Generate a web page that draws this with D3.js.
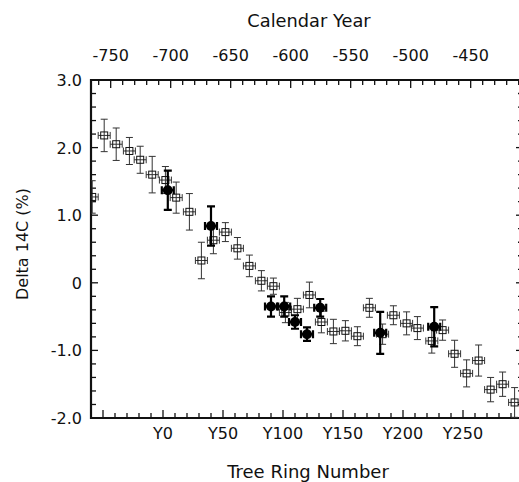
<!DOCTYPE html>
<html>
<head>
<meta charset="utf-8">
<script src="https://cdn.jsdelivr.net/npm/d3@7"></script>
<style>
  body { margin: 0; background: #fff; overflow: hidden; }
  text { font-family: "DejaVu Sans", sans-serif; fill: #111; }
</style>
</head>
<body>
<script>
(function () {

// open squares: tree ring number, delta 14C (%), y error
var openRing = [-59, -49, -39, -28, -19, -9, 2, 11, 22, 32, 42, 52, 62, 72, 82, 92, 102, 112, 122, 132, 142, 152, 162, 172, 183, 192, 203, 212, 224, 233, 243, 253, 263, 273, 283, 293]
var openVal = [1.27, 2.18, 2.05, 1.95, 1.82, 1.60, 1.52, 1.26, 1.05, 0.33, 0.63, 0.75, 0.51, 0.25, 0.03, -0.05, -0.44, -0.39, -0.18, -0.58, -0.72, -0.71, -0.79, -0.37, -0.76, -0.48, -0.60, -0.67, -0.86, -0.70, -1.05, -1.34, -1.15, -1.58, -1.50, -1.77]
var openErr = [0.24, 0.24, 0.24, 0.20, 0.20, 0.27, 0.20, 0.23, 0.27, 0.27, 0.20, 0.14, 0.16, 0.16, 0.15, 0.12, 0.15, 0.16, 0.19, 0.16, 0.18, 0.15, 0.14, 0.14, 0.15, 0.14, 0.17, 0.17, 0.18, 0.15, 0.20, 0.20, 0.23, 0.18, 0.18, 0.22]

// filled markers
var filledRing = [4, 40, 90, 101, 110, 120, 131, 181, 226]
var filledVal = [1.37, 0.84, -0.35, -0.35, -0.58, -0.76, -0.37, -0.74, -0.65]
var filledErr = [0.29, 0.29, 0.15, 0.15, 0.10, 0.10, 0.13, 0.31, 0.29]

var ringHalfWidth = 5

var ringTicks = [0, 50, 100, 150, 200, 250]
var yearTicks = [-750, -700, -650, -600, -550, -500, -450]
var valueTicks = [-2, -1, 0, 1, 2, 3]
var valueLabels = ['-2.0', '-1.0', '0', '1.0', '2.0', '3.0']

var yearOffset = -706.4

var width = 519, height = 482
var left = 91, right = 523, top = 80, bottom = 418

var svg = d3.select("body")
  .append("svg")
  .attr("width", width)
  .attr("height", height)

var x = d3.scaleLinear().domain([-60, 300]).range([left, right])
var xTop = d3.scaleLinear().domain([-60 + yearOffset, 300 + yearOffset]).range([left, right])
var y = d3.scaleLinear().domain([-2, 3]).range([bottom, top])

var openData = openRing.map(function(r, i) {
  return { ring: r, val: openVal[i], err: openErr[i] }
})
var filledData = filledRing.map(function(r, i) {
  return { ring: r, val: filledVal[i], err: filledErr[i] }
})

// ticks
var axes = svg.append("g").attr("stroke", "#111")

var minorRings = d3.range(-50, 300, 10)
axes.selectAll(".bt")
  .data(minorRings)
  .enter().append("line")
  .attr("x1", function(d) { return x(d) })
  .attr("x2", function(d) { return x(d) })
  .attr("y1", bottom)
  .attr("y2", function(d) { return d % 50 == 0 ? bottom - 8 : bottom - 5 })
  .attr("stroke-width", 1.3)

var minorYears = d3.range(-760, -400, 10)
axes.selectAll(".tt")
  .data(minorYears)
  .enter().append("line")
  .attr("x1", function(d) { return xTop(d) })
  .attr("x2", function(d) { return xTop(d) })
  .attr("y1", top)
  .attr("y2", function(d) { return d % 50 == 0 ? top + 8 : top + 5 })
  .attr("stroke-width", 1.3)

var minorVals = d3.range(-1.8, 3, 0.2)
axes.selectAll(".lt")
  .data(minorVals)
  .enter().append("line")
  .attr("x1", left)
  .attr("x2", function(d) { return Math.abs(d - Math.round(d)) < 0.01 ? left + 7 : left + 5 })
  .attr("y1", function(d) { return y(d) })
  .attr("y2", function(d) { return y(d) })
  .attr("stroke-width", 1.3)

axes.selectAll(".rt")
  .data(minorVals)
  .enter().append("line")
  .attr("x1", right)
  .attr("x2", function(d) { return Math.abs(d - Math.round(d)) < 0.01 ? right - 7 : right - 5 })
  .attr("y1", function(d) { return y(d) })
  .attr("y2", function(d) { return y(d) })
  .attr("stroke-width", 1.3)

// frame
axes.append("path")
  .attr("d", "M" + right + "," + top + "H" + left + "V" + bottom + "H" + right)
  .attr("fill", "none")
  .attr("stroke-width", 2.2)

// tick labels
svg.selectAll(".bl")
  .data(ringTicks)
  .enter().append("text")
  .attr("x", function(d) { return x(d) })
  .attr("y", 439)
  .attr("text-anchor", "middle")
  .style("font-size", "16px")
  .text(function(d) { return "Y" + d })

svg.selectAll(".tl")
  .data(yearTicks)
  .enter().append("text")
  .attr("x", function(d) { return xTop(d) })
  .attr("y", 61)
  .attr("text-anchor", "middle")
  .style("font-size", "16px")
  .text(function(d) { return d })

svg.selectAll(".ll")
  .data(valueTicks)
  .enter().append("text")
  .attr("x", 82)
  .attr("y", function(d) { return y(d) + 6 })
  .attr("text-anchor", "end")
  .style("font-size", "16px")
  .text(function(d, i) { return valueLabels[i] })

// titles
svg.append("text")
  .attr("x", 309)
  .attr("y", 27)
  .attr("text-anchor", "middle")
  .style("font-size", "17.8px")
  .text("Calendar Year")

svg.append("text")
  .attr("x", 308)
  .attr("y", 478)
  .attr("text-anchor", "middle")
  .style("font-size", "18px")
  .text("Tree Ring Number")

svg.append("text")
  .attr("transform", "translate(28 244) rotate(-90)")
  .attr("text-anchor", "middle")
  .style("font-size", "16px")
  .text("Delta 14C (%)")

// error bars
function drawErrors(g, data, sw, cap, color) {
  var e = g.selectAll("g")
    .data(data)
    .enter().append("g")
    .attr("stroke", color)
    .attr("stroke-width", sw)
    .attr("fill", "none")

  e.append("path")
    .attr("d", function(d) {
      var cx = x(d.ring), y1 = y(d.val + d.err), y2 = y(d.val - d.err)
      return "M" + cx + "," + y1 + "V" + y2 +
        "M" + (cx - cap) + "," + y1 + "H" + (cx + cap) +
        "M" + (cx - cap) + "," + y2 + "H" + (cx + cap)
    })

  e.append("path")
    .attr("d", function(d) {
      var cy = y(d.val), x1 = x(d.ring - ringHalfWidth), x2 = x(d.ring + ringHalfWidth)
      return "M" + x1 + "," + cy + "H" + x2 +
        "M" + x1 + "," + (cy - cap) + "V" + (cy + cap) +
        "M" + x2 + "," + (cy - cap) + "V" + (cy + cap)
    })
}

var clip = svg.append("clipPath").attr("id", "plotclip")
clip.append("rect").attr("x", left).attr("y", top).attr("width", right - left).attr("height", bottom - top)

var plot = svg.append("g").attr("clip-path", "url(#plotclip)")

drawErrors(plot.append("g"), openData, 1, 3.5, "#333")

plot.append("g")
  .selectAll("rect")
  .data(openData)
  .enter().append("rect")
  .attr("x", function(d) { return x(d.ring) - 3.5 })
  .attr("y", function(d) { return y(d.val) - 3.5 })
  .attr("width", 7)
  .attr("height", 7)
  .attr("fill", "none")
  .attr("stroke", "#111")
  .attr("stroke-width", 1)

drawErrors(plot.append("g"), filledData, 2.2, 4, "#000")

plot.append("g")
  .selectAll("circle")
  .data(filledData)
  .enter().append("circle")
  .attr("cx", function(d) { return x(d.ring) })
  .attr("cy", function(d) { return y(d.val) })
  .attr("r", 5)
  .attr("fill", "#000")

}())
</script>
</body>
</html>
